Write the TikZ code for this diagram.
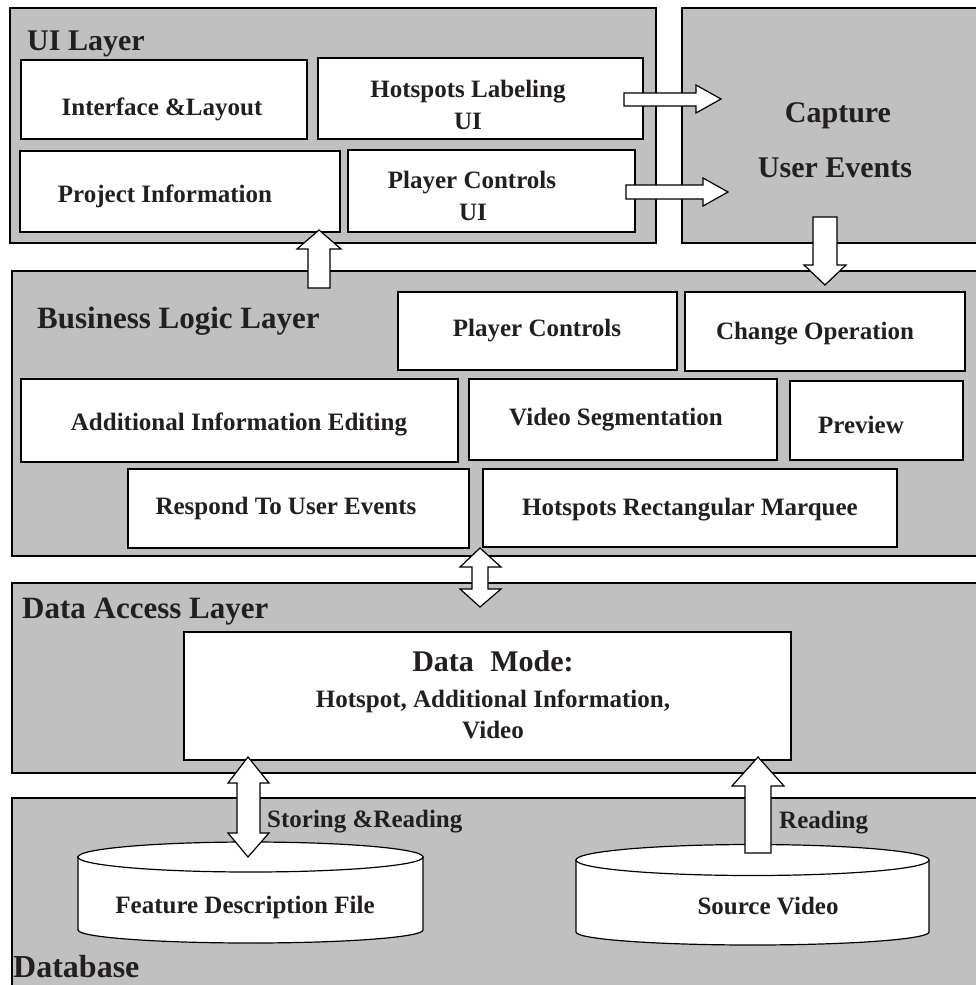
\documentclass[tikz,border=0pt]{standalone}
\usepackage{fontspec}
\setmainfont{Liberation Serif}
\usetikzlibrary{fit}
\definecolor{panelgray}{RGB}{192,192,192}
\definecolor{ink}{RGB}{35,31,32}
\tikzset{
  panel/.style={draw=black, fill=panelgray, line width=1.4pt, inner sep=0pt, outer sep=0pt},
  box/.style={draw=black, fill=white, line width=1.4pt, inner sep=0pt, outer sep=0pt},
  drum/.style={draw=black, fill=white, line width=1.2pt},
  blockarrow/.style={draw=black, fill=white, line width=1.2pt, line join=miter},
  lbl/.style={text=ink, font=\fontsize{25}{28}\selectfont\bfseries, inner sep=0pt, anchor=base},
  title/.style={text=ink, font=\fontsize{31}{34}\selectfont\bfseries, inner sep=0pt, anchor=base west},
  bigcap/.style={text=ink, font=\fontsize{30}{33}\selectfont\bfseries, inner sep=0pt, anchor=base},
}
\begin{document}
\begin{tikzpicture}[x=1pt,y=-1pt]
\useasboundingbox (0,0) rectangle (976,985);
\clip (0,0) rectangle (976,985);

% layer panels
\node[panel, fit={(10,8) (656,243)}] (ui) {};
\node[panel, fit={(682,8) (1000,243)}] (cap) {};
\node[panel, fit={(12,271) (1000,556)}] (bll) {};
\node[panel, fit={(12,583) (1000,773)}] (dal) {};
\node[panel, fit={(12,798) (1000,1000)}] (db) {};

% UI layer boxes
\node[box, fit={(21,60) (307,139)}] (ifl) {};
\node[box, fit={(318,58) (643,139)}] (hlu) {};
\node[box, fit={(20,151) (340,232)}] (pinfo) {};
\node[box, fit={(348,150) (635,232)}] (pcu) {};

% business logic boxes
\node[box, fit={(398,292) (677,370)}] (pc) {};
\node[box, fit={(685,292) (965,371)}] (chop) {};
\node[box, fit={(21,379) (458,462)}] (aie) {};
\node[box, fit={(469,379) (777,460)}] (vseg) {};
\node[box, fit={(790,381) (963,460)}] (prev) {};
\node[box, fit={(128,469) (469,548)}] (rue) {};
\node[box, fit={(483,469) (897,547)}] (hrm) {};

% data model box
\node[box, fit={(184,632) (791,760)}] (dm) {};

% storage drums
\path[drum] (78,857) -- (78,930) arc[start angle=180, end angle=0, x radius=172.5, y radius=13] -- (423,857) -- cycle;
\path[drum] (250.5,857) ellipse[x radius=172.5, y radius=15];
\path[drum] (576,860) -- (576,932) arc[start angle=180, end angle=0, x radius=176.5, y radius=13] -- (929,860) -- cycle;
\path[drum] (752.5,860) ellipse[x radius=176.5, y radius=15.5];

% block arrows
\path[blockarrow] (624,93) -- (696,93) -- (696,85) -- (721,99) -- (696,113) -- (696,106) -- (624,106) -- cycle;
\path[blockarrow] (626,185) -- (703,185) -- (703,178) -- (728,192) -- (703,206) -- (703,199) -- (626,199) -- cycle;
\path[blockarrow] (813,217) -- (837,217) -- (837,265) -- (846,265) -- (825,285) -- (804,265) -- (813,265) -- cycle;
\path[blockarrow] (308,288) -- (308,249) -- (297,249) -- (319,230) -- (341,249) -- (330,249) -- (330,288) -- cycle;
\path[blockarrow] (480,548) -- (501,567) -- (488,567) -- (488,589) -- (501,589) -- (480,607) -- (460,589) -- (472,589) -- (472,567) -- (460,567) -- cycle;
\path[blockarrow] (248,757) -- (269,783) -- (260,783) -- (260,833) -- (269,833) -- (248,857) -- (228,833) -- (237,833) -- (237,783) -- (228,783) -- cycle;
\path[blockarrow] (758,757) -- (784,786) -- (771,786) -- (771,853) -- (745,853) -- (745,786) -- (732,786) -- cycle;

% texts
\node[title, font=\fontsize{30}{33}\selectfont\bfseries] (t-ui) at (27,50) {UI Layer};
\node[lbl] (t-ifl) at (162,115) {Interface \&Layout};
\node[lbl] (t-hlu1) at (468,97) {Hotspots Labeling};
\node[lbl] (t-hlu2) at (468,129) {UI};
\node[lbl] (t-pinfo) at (165,202) {Project Information};
\node[lbl] (t-pcu1) at (472,188) {Player Controls};
\node[lbl] (t-pcu2) at (473,220) {UI};
\node[bigcap] (t-cap1) at (838,122) {Capture};
\node[bigcap] (t-cap2) at (835,177) {User Events};

\node[title] (t-bll) at (37,328) {Business Logic Layer};
\node[lbl] (t-pc) at (537,336) {Player Controls};
\node[lbl] (t-chop) at (815,339) {Change Operation};
\node[lbl] (t-aie) at (239,430) {Additional Information Editing};
\node[lbl] (t-vseg) at (616,425) {Video Segmentation};
\node[lbl] (t-prev) at (861,433) {Preview};
\node[lbl] (t-rue) at (286,514) {Respond To User Events};
\node[lbl] (t-hrm) at (690,515) {Hotspots Rectangular Marquee};

\node[title] (t-dal) at (22,618) {Data Access Layer};
\node[bigcap] (t-dm1) at (493,671) {Data\hspace{0.3em} Mode:};
\node[lbl] (t-dm2) at (493,707) {Hotspot, Additional Information,};
\node[lbl] (t-dm3) at (493,738) {Video};

\node[lbl, anchor=base west] (t-store) at (267,827) {Storing \&Reading};
\node[lbl, anchor=base west] (t-read) at (779,828) {Reading};
\node[lbl] (t-fdf) at (245,913) {Feature Description File};
\node[lbl] (t-src) at (768,914) {Source Video};
\node[title, font=\fontsize{32}{35}\selectfont\bfseries] (t-db) at (13,977) {Database};
\end{tikzpicture}
\end{document}
